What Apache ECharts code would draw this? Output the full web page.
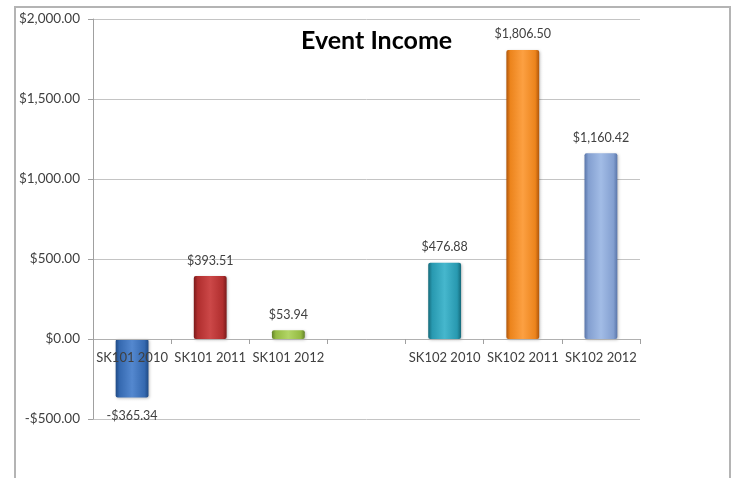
<!DOCTYPE html>
<html>
<head>
<meta charset="utf-8">
<script src="https://cdn.jsdelivr.net/npm/echarts@6/dist/echarts.min.js"></script>
<style>
html,body{margin:0;padding:0;background:#fff;}
#c{width:734px;height:478px;}
</style>
</head>
<body>
<div id="c"></div>
<script>
const categories = ['SK101 2010', 'SK101 2011', 'SK101 2012', '', 'SK102 2010', 'SK102 2011', 'SK102 2012'];
const values = [-365.34, 393.51, 53.94, null, 476.88, 1806.50, 1160.42];
const yTicks = { min: -500, max: 2000, interval: 500 };
const titleText = 'Event Income';

// [edge, base, highlight] per bar
const palette = [
  ['#1f4a85', '#3569b0', '#5488cf'],
  ['#7a1a1a', '#b02e2e', '#cc4848'],
  ['#64832a', '#94ba42', '#b2d566'],
  ['#888', '#aaa', '#ccc'],
  ['#156a7a', '#2899b0', '#46b7cd'],
  ['#b0560a', '#ec841c', '#fca042'],
  ['#5a76aa', '#839fd0', '#a2bce6']
];

function money(n) {
  const s = Math.abs(n).toLocaleString('en-US', { minimumFractionDigits: 2, maximumFractionDigits: 2 });
  return (n < 0 ? '-' : '') + '$' + s;
}

const FONT = 'Lato';
const GRID_TOP = 19, GRID_BOTTOM = 59;
const chart = echarts.init(document.getElementById('c'), null, { renderer: 'canvas' });

const seriesData = values.map((v, i) => {
  const p = palette[i];
  const neg = v !== null && v < 0;
  return {
    value: v,
    itemStyle: {
      color: new echarts.graphic.LinearGradient(0, 0, 1, 0, [
        { offset: 0, color: p[0] },
        { offset: 0.12, color: p[1] },
        { offset: 0.5, color: p[2] },
        { offset: 0.88, color: p[1] },
        { offset: 1, color: p[0] }
      ]),
      borderRadius: 2,
      shadowColor: 'rgba(0,0,0,0.25)',
      shadowBlur: 3,
      shadowOffsetX: 1,
      shadowOffsetY: 1
    },
    label: { position: neg ? 'bottom' : 'top', distance: neg ? 12 : 9 }
  };
});

// distance from zero line to the bottom of the grid, in pixels
const plotH = 478 - GRID_TOP - GRID_BOTTOM;
const zeroToBottom = plotH * (0 - yTicks.min) / (yTicks.max - yTicks.min);

chart.setOption({
  animation: false,
  backgroundColor: '#fff',
  title: {
    text: titleText,
    left: 296,
    top: 23,
    textStyle: { fontFamily: FONT, fontSize: 25, fontWeight: 'bold', color: '#000' }
  },
  grid: { left: 93, right: 94, top: GRID_TOP, bottom: GRID_BOTTOM, containLabel: false },
  xAxis: {
    type: 'category',
    data: categories,
    z: 5,
    axisLine: { show: true, onZero: true, lineStyle: { color: '#b0b0b0', width: 1 } },
    axisTick: { show: true, length: 5, alignWithLabel: false, lineStyle: { color: '#a0a0a0' } },
    axisLabel: { interval: 0, margin: 12 - zeroToBottom, fontFamily: FONT, fontSize: 13, color: '#404040' },
    splitLine: { show: false }
  },
  yAxis: {
    type: 'value',
    min: yTicks.min,
    max: yTicks.max,
    interval: yTicks.interval,
    axisLine: { show: true, lineStyle: { color: '#a0a0a0', width: 1 } },
    axisTick: { show: true, length: 5, lineStyle: { color: '#a0a0a0' } },
    axisLabel: { margin: 13, fontFamily: FONT, fontSize: 13.5, color: '#404040', formatter: money },
    splitLine: { show: true, lineStyle: { color: '#c4c4c4', width: 1 } }
  },
  series: [{
    type: 'bar',
    data: seriesData,
    barWidth: '42%',
    z: 2,
    label: {
      show: true,
      distance: 9,
      fontFamily: FONT,
      fontSize: 12.5,
      color: '#404040',
      formatter: p => money(p.value)
    }
  }],
  graphic: [{
    type: 'polyline',
    shape: { points: [[15, 478], [15, 7], [730, 7], [730, 478]] },
    style: { stroke: '#b4b4b4', lineWidth: 2, fill: null },
    silent: true
  }]
});
</script>
</body>
</html>
